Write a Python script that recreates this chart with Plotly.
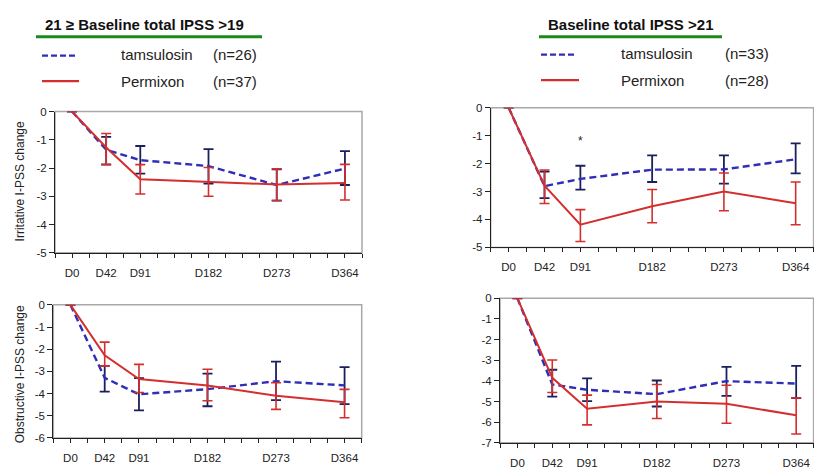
import plotly.graph_objects as go
import numpy as np

W, H = 814, 470

days = ["D0", "D42", "D91", "D182", "D273", "D364"]
day_pos = [0, 1, 2, 4, 6, 8]

# Panel A: Irritative, 21 >= baseline > 19
irr_a_tam = [0, -1.35, -1.72, -1.93, -2.60, -2.02]
irr_a_tam_hi = [None, -0.90, -1.22, -1.33, -2.05, -1.40]
irr_a_tam_lo = [None, -1.88, -2.20, -2.55, -3.15, -2.60]
irr_a_per = [0, -1.27, -2.40, -2.50, -2.58, -2.53]
irr_a_per_hi = [None, -0.78, -1.88, -1.98, -2.03, -1.87]
irr_a_per_lo = [None, -1.87, -2.92, -3.00, -3.15, -3.13]

# Panel B: Irritative, baseline > 21
irr_b_tam = [0, -2.81, -2.55, -2.22, -2.21, -1.85]
irr_b_tam_hi = [None, -2.29, -2.08, -1.71, -1.71, -1.28]
irr_b_tam_lo = [None, -3.24, -2.93, -2.66, -2.72, -2.35]
irr_b_per = [0, -2.79, -4.19, -3.53, -3.00, -3.42]
irr_b_per_hi = [None, -2.23, -3.65, -2.93, -2.34, -2.66]
irr_b_per_lo = [None, -3.43, -4.79, -4.12, -3.69, -4.19]
irr_b_sig = [None, None, -1.18, None, None, None]

# Panel C: Obstructive, 21 >= baseline > 19
obs_a_tam = [0, -3.29, -4.03, -3.80, -3.44, -3.63]
obs_a_tam_hi = [None, -2.75, -3.30, -3.10, -2.56, -2.81]
obs_a_tam_lo = [None, -3.91, -4.76, -4.57, -4.29, -4.47]
obs_a_per = [0, -2.27, -3.34, -3.63, -4.10, -4.39]
obs_a_per_hi = [None, -1.68, -2.68, -2.90, -3.51, -3.81]
obs_a_per_lo = [None, -2.75, -3.95, -4.32, -4.71, -5.09]

# Panel D: Obstructive, baseline > 21
obs_b_tam = [0, -4.17, -4.43, -4.64, -4.01, -4.13]
obs_b_tam_hi = [None, -3.46, -3.88, -3.98, -3.32, -3.27]
obs_b_tam_lo = [None, -4.76, -4.98, -5.24, -4.72, -4.83]
obs_b_per = [0, -3.85, -5.35, -5.00, -5.11, -5.66]
obs_b_per_hi = [None, -2.99, -4.69, -4.17, -4.21, -4.83]
obs_b_per_lo = [None, -4.56, -6.13, -5.82, -6.05, -6.57]

y_ticks = [0, -1, -2, -3, -4, -5, -6, -7]
y_ticktext = ["0", "-1", "-2", "-3", "-4", "-5", "-6", "-7"]

titles = ["21 \u2265 Baseline total IPSS >19", "Baseline total IPSS >21"]
legend_names = ["tamsulosin", "Permixon"]
n_left = ["(n=26)", "(n=37)"]
n_right = ["(n=33)", "(n=28)"]
ytitles = ["Irritative I-PSS change", "Obstructive I-PSS change"]

BLUE = "#2e2eb8"
NAVY = "#1b1f5e"
RED = "#d42f2f"
FONT = "Liberation Sans, Arial, sans-serif"


def px(x):
    return x / W


def py(y):
    return 1 - y / H


def err(mean, hi, lo):
    up = [None if h is None else h - m for m, h in zip(mean, hi)]
    dn = [None if l is None else m - l for m, l in zip(mean, lo)]
    return up, dn


fig = go.Figure()

panels = [
    ("x", "y", irr_a_tam, irr_a_tam_hi, irr_a_tam_lo, irr_a_per, irr_a_per_hi, irr_a_per_lo, -5, (55, 362), (108.3, 253.3)),
    ("x2", "y2", irr_b_tam, irr_b_tam_hi, irr_b_tam_lo, irr_b_per, irr_b_per_hi, irr_b_per_lo, -5, (490.7, 813.6), (104.3, 247.7)),
    ("x3", "y3", obs_a_tam, obs_a_tam_hi, obs_a_tam_lo, obs_a_per, obs_a_per_hi, obs_a_per_lo, -6, (53.3, 361.7), (306.7, 443.3)),
    ("x4", "y4", obs_b_tam, obs_b_tam_hi, obs_b_tam_lo, obs_b_per, obs_b_per_hi, obs_b_per_lo, -7, (500, 813.6), (300, 448.3)),
]

layout = dict(
    width=W, height=H, margin=dict(l=0, r=0, t=0, b=0),
    paper_bgcolor="white", plot_bgcolor="white", showlegend=False,
    font=dict(family=FONT, color="#222"),
)
shapes = []
annotations = []

minor_vals = list(np.arange(-0.5, 8.51, 0.5))

for i, (xa, ya, tam, tam_hi, tam_lo, per, per_hi, per_lo, ymin, xd, yd) in enumerate(panels):
    up, dn = err(tam, tam_hi, tam_lo)
    fig.add_trace(go.Scatter(
        x=day_pos, y=tam, xaxis=xa, yaxis=ya, mode="lines",
        line=dict(color=BLUE, width=2.4, dash="7px,4px"),
        error_y=dict(type="data", symmetric=False, array=up, arrayminus=dn,
                     color=NAVY, thickness=1.8, width=5),
        cliponaxis=False, name=legend_names[0]))
    up, dn = err(per, per_hi, per_lo)
    fig.add_trace(go.Scatter(
        x=day_pos, y=per, xaxis=xa, yaxis=ya, mode="lines",
        line=dict(color=RED, width=2),
        error_y=dict(type="data", symmetric=False, array=up, arrayminus=dn,
                     color=RED, thickness=1.6, width=5),
        cliponaxis=False, name=legend_names[1]))

    xkey = "xaxis" + ("" if i == 0 else str(i + 1))
    ykey = "yaxis" + ("" if i == 0 else str(i + 1))
    nt = -ymin + 1
    layout[xkey] = dict(
        domain=[px(xd[0]), min(px(xd[1]), 1.0)], anchor=ya, range=[-0.5, 8.5],
        tickmode="array", tickvals=day_pos, ticktext=days,
        ticks="outside", ticklen=4, tickcolor="#222", showline=True, linecolor="#222",
        linewidth=1, showgrid=False, zeroline=False, ticklabelstandoff=5,
        tickfont=dict(size=11.5, family=FONT, color="#222"),
        minor=dict(tickmode="array", tickvals=minor_vals, ticks="outside", ticklen=4, tickcolor="#222"),
    )
    layout[ykey] = dict(
        domain=[py(yd[1]), py(yd[0])], anchor=xa, range=[ymin, 0],
        tickmode="array", tickvals=y_ticks[:nt], ticktext=y_ticktext[:nt],
        ticks="outside", ticklen=5, tickcolor="#222", showline=True, linecolor="#222",
        linewidth=1, showgrid=False, zeroline=False,
        tickfont=dict(size=11.5, family=FONT, color="#222"),
    )
    shapes.append(dict(type="rect", xref=xa + " domain", yref=ya + " domain",
                       x0=0, x1=1, y0=0, y1=1, line=dict(color="#a8a8a8", width=1.5),
                       layer="below"))

# asterisk above D91 in panel B
for xp, s in zip(day_pos, irr_b_sig):
    if s is not None:
        annotations.append(dict(x=xp, y=s, xref="x2", yref="y2", text="*", showarrow=False,
                                font=dict(size=12, color="#222", family=FONT)))

# y-axis titles
for txt, yc in zip(ytitles, [180, 378]):
    annotations.append(dict(x=px(20), y=py(yc), xref="paper", yref="paper", text=txt,
                            xanchor="center", yanchor="middle",
                            textangle=-90, showarrow=False, font=dict(size=12, color="#222", family=FONT)))

# headers and legends
hdr = [
    (43, 36, 262, 42, 77, 119, 211, n_left),
    (546, 539, 722, 541, 577, 619, 723, n_right),
]
for k, (tx, gx0, gx1, lx0, lx1, nx, ncx, ntexts) in enumerate(hdr):
    annotations.append(dict(x=px(tx), y=py(19), xref="paper", yref="paper", text="<b>" + titles[k] + "</b>",
                            xanchor="left", yanchor="middle", showarrow=False,
                            font=dict(size=15, color="#111", family=FONT)))
    shapes.append(dict(type="line", xref="paper", yref="paper", x0=px(gx0), x1=px(gx1),
                       y0=py(31.5), y1=py(31.5), line=dict(color="#1a8a1a", width=3)))
    ys = [50, 77] if k == 0 else [49, 76]
    shapes.append(dict(type="line", xref="paper", yref="paper", x0=px(lx0), x1=px(lx1),
                       y0=py(ys[0] + 1), y1=py(ys[0] + 1), line=dict(color=BLUE, width=2.2, dash="6px,3px")))
    shapes.append(dict(type="line", xref="paper", yref="paper", x0=px(lx0), x1=px(lx1 + 2),
                       y0=py(ys[1]), y1=py(ys[1]), line=dict(color=RED, width=2.2)))
    for j in range(2):
        annotations.append(dict(x=px(nx), y=py(ys[j]), xref="paper", yref="paper", text=legend_names[j],
                                xanchor="left", yanchor="middle", showarrow=False,
                                font=dict(size=15, color="#222", family=FONT)))
        annotations.append(dict(x=px(ncx), y=py(ys[j]), xref="paper", yref="paper", text=ntexts[j],
                                xanchor="left", yanchor="middle", showarrow=False,
                                font=dict(size=15, color="#222", family=FONT)))

layout["shapes"] = shapes
layout["annotations"] = annotations
fig.update_layout(**layout)
fig.write_html("out.html")
